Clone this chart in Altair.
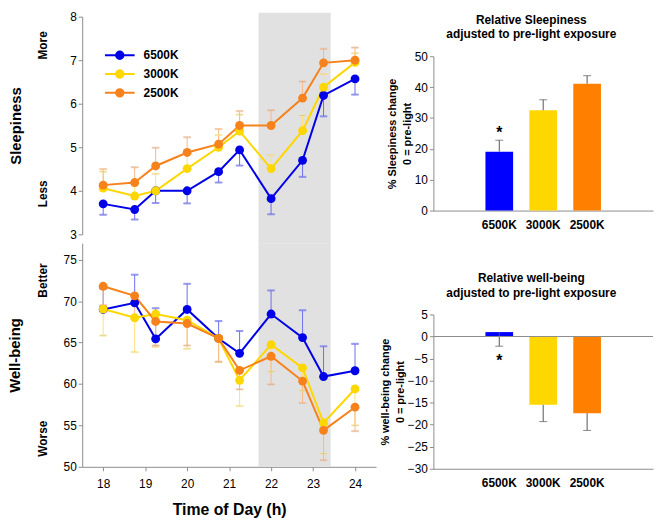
import altair as alt
import pandas as pd

FONT = "Liberation Sans"
AXIS_GRAY = "#8c8c8c"
BAND_GRAY = "#e1e1e1"

# ---------------- data ----------------
times = [18, 18.75, 19.25, 20, 20.75, 21.25, 22, 22.75, 23.25, 24]
series = ["6500K", "3000K", "2500K"]
line_colors = ["#0000e8", "#ffd700", "#f7821b"]
err_colors = ["#6e6eee", "#ffe27a", "#f8b888"]
bar_colors = ["#0000ff", "#ffd700", "#ff8000"]
light_window = [21.7, 23.42]

sleep_6500 = [3.70, 3.57, 4.00, 4.00, 4.44, 4.94, 3.82, 4.70, 6.19, 6.57]
sleep_3000 = [4.06, 3.88, 4.00, 4.51, 5.00, 5.37, 4.51, 5.38, 6.38, 6.95]
sleep_2500 = [4.13, 4.19, 4.57, 4.88, 5.07, 5.50, 5.50, 6.13, 6.94, 7.00]
sleep_6500_err = [0.25, 0.23, 0.28, 0.29, 0.25, 0.36, 0.36, 0.38, 0.48, 0.36]
sleep_3000_err = [0.38, 0.25, 0.39, 0.35, 0.28, 0.38, 0.31, 0.35, 0.30, 0.21]
sleep_2500_err = [0.37, 0.35, 0.42, 0.35, 0.35, 0.33, 0.35, 0.38, 0.32, 0.29]
sleep_err_dir = [-1, 1, 1]

well_6500 = [69.0, 69.8, 65.45, 69.0, 65.5, 63.7, 68.45, 65.6, 60.9, 61.6]
well_3000 = [69.05, 68.0, 68.45, 67.7, 65.5, 60.45, 64.75, 61.95, 55.3, 59.4]
well_2500 = [71.8, 70.65, 67.55, 67.3, 65.5, 61.65, 63.35, 60.35, 54.4, 57.2]
well_6500_err = [2.5, 3.4, 3.7, 3.1, 2.1, 2.7, 2.85, 3.3, 3.65, 3.25]
well_3000_err = [3.2, 4.15, 3.95, 3.45, 2.85, 3.1, 3.25, 2.75, 3.7, 4.4]
well_2500_err = [2.3, 2.5, 2.9, 2.65, 2.8, 2.3, 3.4, 2.65, 3.6, 2.9]
well_err_dir = [1, -1, -1]

sleep_side_labels = ["More", "Less"]
sleep_side_values = [7.34, 3.93]
well_side_labels = ["Better", "Worse"]
well_side_values = [72.5, 53.4]

sleep_change = [19.1, 32.5, 41.1]
sleep_change_err_end = [22.8, 35.9, 43.7]
well_change = [1.0, -15.5, -17.4]
well_change_err_end = [-2.2, -19.3, -21.3]
star_label = ["6500K"]
sleep_star_value = [25.0]
well_star_value = [-5.6]


def series_frame(values, errs, dirs):
    rows = []
    for name, vals, es, d in zip(series, values, errs, dirs):
        for t, v, e in zip(times, vals, es):
            rows.append({"time": t, "series": name, "value": v, "err_end": v + d * e})
    return pd.DataFrame(rows)


sleep_df = series_frame([sleep_6500, sleep_3000, sleep_2500],
                        [sleep_6500_err, sleep_3000_err, sleep_2500_err], sleep_err_dir)
well_df = series_frame([well_6500, well_3000, well_2500],
                       [well_6500_err, well_3000_err, well_2500_err], well_err_dir)
band_df = pd.DataFrame({"start": [light_window[0]], "end": [light_window[1]]})

color_scale = alt.Scale(domain=series, range=line_colors)
err_scale = alt.Scale(domain=series, range=err_colors)

legend_path = (
    "M-3,0L3,0"
    "M-0.2,0A0.2,0.2 0 1,0 0.2,0A0.2,0.2 0 1,0 -0.2,0"
    "M-0.5,0A0.5,0.5 0 1,0 0.5,0A0.5,0.5 0 1,0 -0.5,0"
    "M-0.75,0A0.75,0.75 0 1,0 0.75,0A0.75,0.75 0 1,0 -0.75,0"
)

W_L = 297
H_TOP = 220
H_BOT = 226
GAP = 9


def line_panel(df, ydomain, yticks, ytitle, ytitle_pad, side_labels, side_values,
               xaxis, band_top, band_bottom, height, legend):
    x_scale = alt.Scale(domain=[17.5, 24.5], nice=False, zero=False)
    y_scale = alt.Scale(domain=ydomain, nice=False, zero=False)
    y_axis = alt.Axis(values=yticks, title=ytitle, titlePadding=ytitle_pad,
                      titleFontSize=15, titleFontWeight="bold", titleColor="black",
                      labelFontSize=12, labelColor="black", labelPadding=2,
                      tickSize=4, grid=False, domainColor=AXIS_GRAY, tickColor=AXIS_GRAY)

    def X(field):
        return alt.X(f"{field}:Q", scale=x_scale, axis=xaxis)

    def Y(field):
        return alt.Y(f"{field}:Q", scale=y_scale, axis=y_axis)

    err_stroke = alt.Stroke("series:N", scale=err_scale, legend=None)

    band = alt.Chart(band_df).mark_rect(color=BAND_GRAY).encode(
        x=X("start"), x2="end", y=alt.value(band_top), y2=alt.value(band_bottom))
    base = alt.Chart(df)
    err = base.mark_rule(strokeWidth=1).encode(
        x=X("time"), y=Y("value"), y2="err_end", stroke=err_stroke)
    caps = base.mark_tick(orient="horizontal", size=7, thickness=1).encode(
        x=X("time"), y=Y("err_end"), stroke=err_stroke)
    lines = base.mark_line(strokeWidth=2).encode(
        x=X("time"), y=Y("value"),
        color=alt.Color("series:N", scale=color_scale, legend=legend))
    points = base.mark_circle(size=80, opacity=1).encode(
        x=X("time"), y=Y("value"),
        fill=alt.Fill("series:N", scale=color_scale, legend=None))
    side_df = pd.DataFrame({"label": side_labels, "pos": side_values})
    side = alt.Chart(side_df).mark_text(angle=270, fontSize=12, fontWeight="bold",
                                        color="black", align="center", baseline="middle").encode(
        x=alt.value(-40), y=Y("pos"), text="label:N")
    return alt.layer(band, err, caps, lines, points, side).properties(width=W_L, height=height)


legend = alt.Legend(title=None, orient="none", legendX=32, legendY=33,
                    symbolType=legend_path, symbolSize=100, symbolStrokeWidth=2,
                    labelFontSize=12, labelFontWeight="bold", labelColor="black",
                    labelOffset=18, rowPadding=3, padding=0)

top_left = line_panel(sleep_df, [3, 8], [3, 4, 5, 6, 7, 8], "Sleepiness", 47,
                      sleep_side_labels, sleep_side_values, None, -4, H_TOP + GAP, H_TOP, legend)

bottom_xaxis = alt.Axis(values=[18, 19, 20, 21, 22, 23, 24], format="d", title="Time of Day (h)",
                        titleFontSize=16, titleFontWeight="bold", titleColor="black", titlePadding=12,
                        labelFontSize=12, labelColor="black", labelPadding=8, tickSize=4,
                        grid=False, domainColor=AXIS_GRAY, tickColor=AXIS_GRAY)
bottom_left = line_panel(well_df, [50, 77], [50, 55, 60, 65, 70, 75], "Well-being", 40.6,
                         well_side_labels, well_side_values, bottom_xaxis, 0, H_BOT, H_BOT, None)

left = alt.vconcat(top_left, bottom_left, spacing=0).resolve_scale(color="independent")

# ---------------- bar charts ----------------
W_R = 222
H_R = 156
band_domain = ["pad_l"] + series + ["pad_r"]
bar_color = alt.Color("cond:N", scale=alt.Scale(domain=series, range=bar_colors), legend=None)


def bar_panel(values, err_end, star_value, ydomain, yticks, ytitle, title_lines, zero_line):
    x_scale = alt.Scale(domain=band_domain, paddingInner=0.37, paddingOuter=0.185)
    x_axis = alt.Axis(values=series, title=None, ticks=False, tickSize=0, labelPadding=9,
                      labelFontSize=12, labelFontWeight="bold", labelColor="black", labelAngle=0,
                      domainColor=AXIS_GRAY, grid=False)
    y_scale = alt.Scale(domain=ydomain, nice=False, zero=False)
    y_axis = alt.Axis(values=yticks, title=ytitle, titleFontSize=11, titleFontWeight="bold",
                      titleColor="black", titleLineHeight=15, titlePadding=2,
                      labelFontSize=12, labelColor="black", labelPadding=2, tickSize=4,
                      grid=False, domainColor=AXIS_GRAY, tickColor=AXIS_GRAY)

    def X():
        return alt.X("cond:N", scale=x_scale, axis=x_axis)

    def Y(field):
        return alt.Y(f"{field}:Q", scale=y_scale, axis=y_axis)

    df = pd.DataFrame({"cond": series, "value": values, "err_end": err_end})
    bars = alt.Chart(df).mark_bar().encode(x=X(), y=Y("value"), color=bar_color)
    err = alt.Chart(df).mark_rule(color="#555555", strokeWidth=1).encode(
        x=X(), y=Y("value"), y2="err_end")
    caps = alt.Chart(df).mark_tick(orient="horizontal", size=8, thickness=1, color="#555555").encode(
        x=X(), y=Y("err_end"))
    star_df = pd.DataFrame({"cond": star_label, "pos": star_value})
    star = alt.Chart(star_df).mark_text(text="*", fontSize=16, fontWeight="bold", color="black",
                                        baseline="middle").encode(x=X(), y=Y("pos"))
    layers = [bars, err, caps, star]
    if zero_line:
        zdf = pd.DataFrame({"zero": [0]})
        layers.append(alt.Chart(zdf).mark_rule(color=AXIS_GRAY, strokeWidth=1).encode(y=Y("zero")))
    title = alt.TitleParams(title_lines, fontSize=12, fontWeight="bold", lineHeight=15,
                            anchor="middle", frame="group", dx=-12, offset=9, color="black")
    return alt.layer(*layers).properties(width=W_R, height=H_R, title=title)


top_right = bar_panel(sleep_change, sleep_change_err_end, sleep_star_value, [0, 50],
                      [0, 10, 20, 30, 40, 50], ["% Sleepiness change", "0 = pre-light"],
                      ["Relative Sleepiness", "adjusted to pre-light exposure"], False)
bottom_right = bar_panel(well_change, well_change_err_end, well_star_value, [-30, 5],
                         [-30, -25, -20, -15, -10, -5, 0, 5], ["% well-being change", "0 = pre-light"],
                         ["Relative well-being", "adjusted to pre-light exposure"], True)

# an empty, invisible first row so the right column's origin sits at its very top
spacer = alt.Chart(pd.DataFrame({"v": [0]})).mark_point(size=0, opacity=0, strokeWidth=0).encode(
    x=alt.value(0), y=alt.value(0)).properties(width=W_R, height=1)

bars_col = alt.vconcat(top_right, bottom_right, spacing=42).resolve_scale(color="independent")
right = alt.vconcat(spacer, bars_col, spacing=-4).resolve_scale(color="independent")

chart = (
    alt.hconcat(left, right, spacing=3)
    .resolve_scale(color="independent")
    .properties(padding={"left": 0, "top": 0, "right": 0, "bottom": 0})
    .configure(font=FONT)
    .configure_view(stroke=None)
    .configure_axis(labelFont=FONT, titleFont=FONT)
    .configure_legend(labelFont=FONT)
    .configure_title(font=FONT)
)

chart.save("out.html", embed_options={"renderer": "svg", "actions": False})
